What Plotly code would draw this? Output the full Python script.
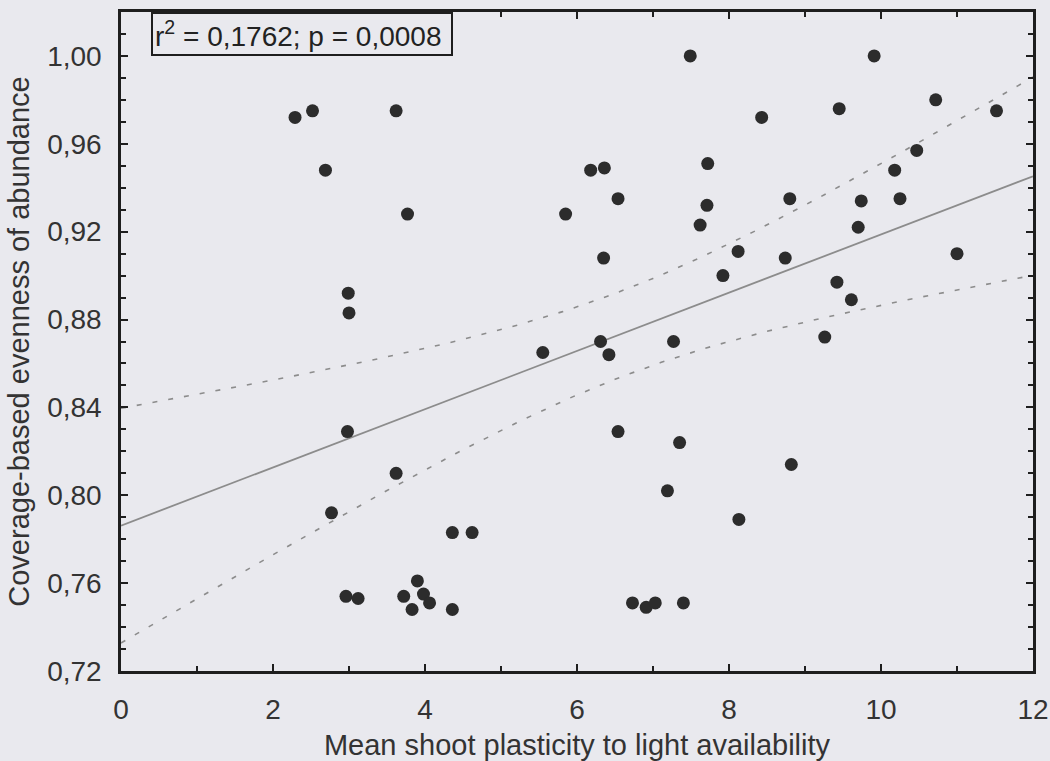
import numpy as np
import plotly.graph_objects as go

# Data
plasticity = [2.29, 2.52, 2.69, 3.62, 3.77, 2.99, 3.00, 2.98, 3.62, 2.77,
              4.36, 4.62, 2.96, 3.12, 3.72, 3.90, 3.83, 3.98, 4.06, 4.36,
              7.49, 6.18, 6.36, 7.72, 6.54, 5.85, 7.71, 7.62,
              9.91, 8.43, 9.45, 10.72, 11.52, 10.47, 10.18, 8.80, 9.74, 10.25, 9.70,
              6.35, 8.12, 7.92, 5.55, 6.31, 6.42, 7.27, 6.54, 7.35,
              8.74, 11.00, 9.42, 9.61, 9.26, 8.82,
              7.19, 8.13, 6.73, 6.91, 7.03, 7.40]
evenness = [0.972, 0.975, 0.948, 0.975, 0.928, 0.892, 0.883, 0.829, 0.810, 0.792,
            0.783, 0.783, 0.754, 0.753, 0.754, 0.761, 0.748, 0.755, 0.751, 0.748,
            1.000, 0.948, 0.949, 0.951, 0.935, 0.928, 0.932, 0.923,
            1.000, 0.972, 0.976, 0.980, 0.975, 0.957, 0.948, 0.935, 0.934, 0.935, 0.922,
            0.908, 0.911, 0.900, 0.865, 0.870, 0.864, 0.870, 0.829, 0.824,
            0.908, 0.910, 0.897, 0.889, 0.872, 0.814,
            0.802, 0.789, 0.751, 0.749, 0.751, 0.751]

x_ticks = [0, 2, 4, 6, 8, 10, 12]
y_ticks = [0.72, 0.76, 0.80, 0.84, 0.88, 0.92, 0.96, 1.00]
stats_text = "r<sup>2</sup> = 0,1762; p = 0,0008\u00a0"
T_CRIT = 2.0017  # t(0.975, df=58)

x = np.array(plasticity)
y = np.array(evenness)
n = len(x)
slope, intercept = np.polyfit(x, y, 1)
xf = np.linspace(0, 12, 121)
yf = intercept + slope * xf
resid = y - (intercept + slope * x)
s = np.sqrt(np.sum(resid ** 2) / (n - 2))
sxx = np.sum((x - x.mean()) ** 2)
half = T_CRIT * s * np.sqrt(1.0 / n + (xf - x.mean()) ** 2 / sxx)

BG = "#e9e9ee"
FONT = "Liberation Sans, Arial, sans-serif"
fig = go.Figure()
fig.add_trace(go.Scatter(x=xf, y=yf + half, mode="lines",
                         line=dict(color="#8c8c8c", width=1.6, dash="5px,11px"),
                         hoverinfo="skip"))
fig.add_trace(go.Scatter(x=xf, y=yf - half, mode="lines",
                         line=dict(color="#8c8c8c", width=1.6, dash="5px,11px"),
                         hoverinfo="skip"))
fig.add_trace(go.Scatter(x=xf, y=yf, mode="lines",
                         line=dict(color="#8c8c8c", width=1.8),
                         hoverinfo="skip"))
fig.add_trace(go.Scatter(x=plasticity, y=evenness, mode="markers",
                         marker=dict(color="#2c2c2c", size=13, line=dict(width=0))))

axis_common = dict(
    showgrid=False, zeroline=False, showline=True, linecolor="#1e1e1e", linewidth=2.5,
    mirror="ticks", ticks="inside", ticklen=7, tickwidth=2, tickcolor="#1e1e1e",
    tickfont=dict(family=FONT, size=28, color="#333333"),
    automargin=False,
)

fig.update_layout(
    width=1050, height=761,
    margin=dict(l=121, r=17, t=12, b=90),
    paper_bgcolor=BG, plot_bgcolor=BG,
    showlegend=False,
    separators=", ",
    font=dict(family=FONT, color="#333333"),
    xaxis=dict(range=[0, 12], tickvals=x_ticks, ticktext=[str(v) for v in x_ticks],
               ticklabelstandoff=12,
               minor=dict(dtick=1, ticks="inside", ticklen=5, tickwidth=2, tickcolor="#1e1e1e"),
               title=dict(text="Mean shoot plasticity to light availability",
                          font=dict(family=FONT, size=29, color="#333333"), standoff=14),
               **axis_common),
    yaxis=dict(range=[0.72, 1.02], tickvals=y_ticks, tickformat=".2f",
               ticklabelstandoff=11,
               minor=dict(dtick=0.01, tick0=0.72, ticks="inside", ticklen=5, tickwidth=2,
                          tickcolor="#1e1e1e"),
               title=dict(text="Coverage-based evenness of abundance",
                          font=dict(family=FONT, size=29, color="#333333"), standoff=10),
               **axis_common),
    annotations=[dict(text=stats_text, xref="x", yref="y domain", x=0.4, y=1.0,
                      xanchor="left", yanchor="top", showarrow=False,
                      font=dict(family=FONT, size=28, color="#222222"),
                      bordercolor="#1e1e1e", borderwidth=2, borderpad=2,
                      bgcolor=BG)],
)

fig.write_html("out.html")
